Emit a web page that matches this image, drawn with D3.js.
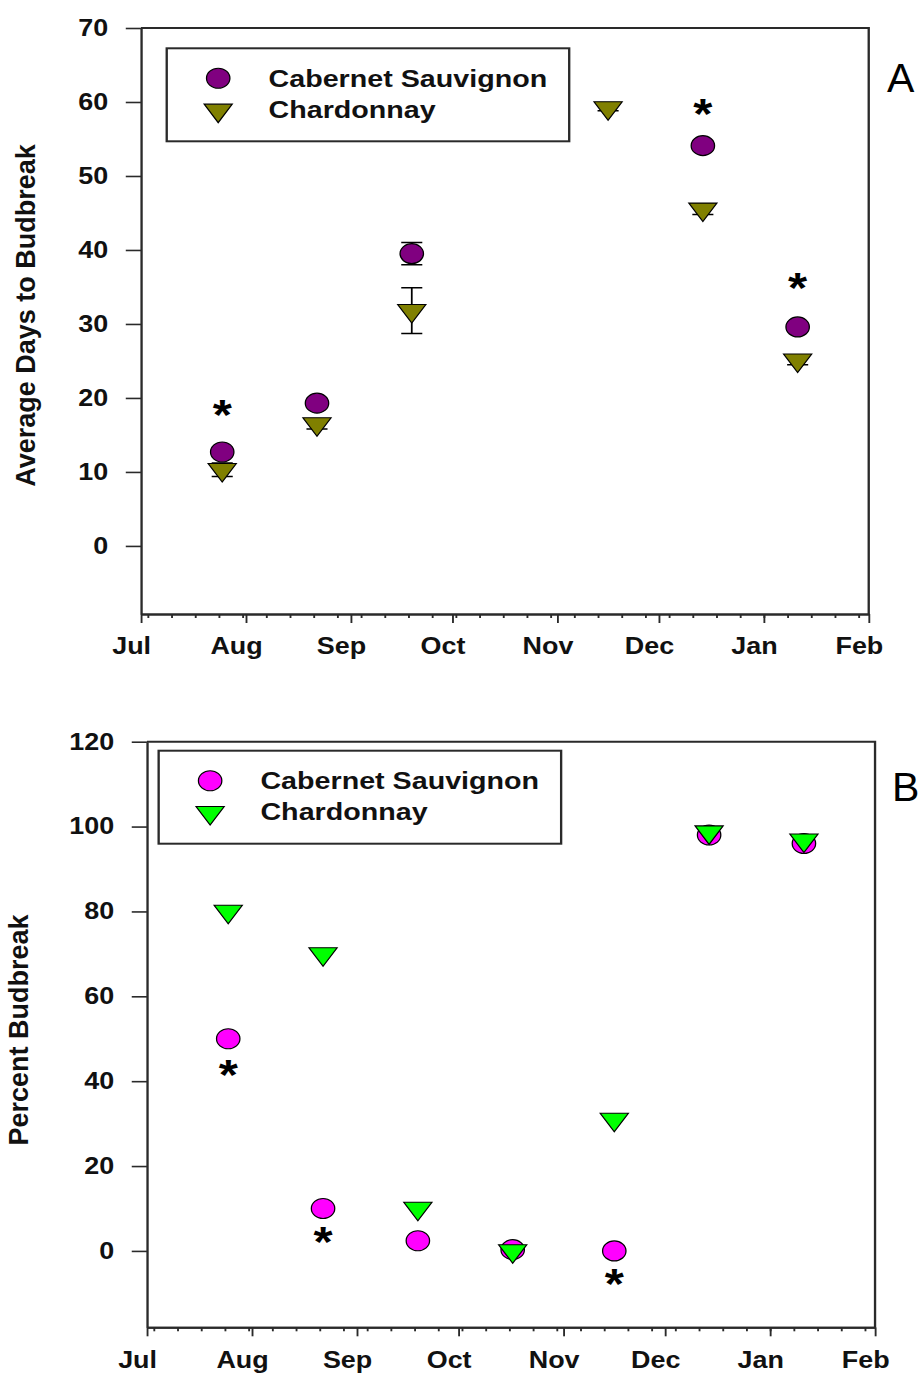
<!DOCTYPE html>
<html>
<head>
<meta charset="utf-8">
<script src="https://cdn.jsdelivr.net/npm/d3@7"></script>
<style>
  body { margin: 0; background: #fff; }
  text { font-family: "Liberation Sans", Arial, sans-serif; }
</style>
</head>
<body>
<svg id="fig" width="921" height="1373"></svg>
<script>
// ---- data -------------------------------------------------------------
const seasonStart = "2011-07-01";
const seasonEnd = "2012-02-01";
const seriesNames = ["Cabernet Sauvignon", "Chardonnay"];

// Panel A: average days to budbreak (mean, error)
const sampleDatesA = ["2011-07-25", "2011-08-22", "2011-09-19", "2011-11-16", "2011-12-14", "2012-01-11"];
const cabDaysA   = [12.7, 19.3, 39.5, null, 54.1, 29.6];
const cabErrA    = [0.6, 0.5, 1.5, null, 0.6, 0.6];
const chardDaysA = [10.3, 16.5, 31.8, 59.2, 45.5, 25.1];
const chardErrA  = [0.9, 0.7, 3.1, 0.4, 0.7, 0.6];
const sigDatesA  = ["2011-07-25", "2011-12-14", "2012-01-11"];
const sigLevelsA = [18.5, 59.2, 35.7];
const yTicksA    = [0, 10, 20, 30, 40, 50, 60, 70];

// Panel B: percent budbreak
const sampleDatesB = ["2011-07-25", "2011-08-22", "2011-09-19", "2011-10-17", "2011-11-16", "2011-12-14", "2012-01-11"];
const cabPctB   = [50, 10, 2.4, 0.3, 0, 98, 96];
const chardPctB = [80, 70, 10, 0, 31, 98.7, 96.8];
const sigDatesB  = ["2011-07-25", "2011-08-22", "2011-11-16"];
const sigLevelsB = [42.9, 3.4, -6.4];
const yTicksB    = [0, 20, 40, 60, 80, 100, 120];

// ---- drawing ----------------------------------------------------------
const parseDay = d3.utcParse("%Y-%m-%d");
const svg = d3.select("#fig");
const sx = 1.17;                       // wide aspect of the figure
const stage = svg.append("g").attr("transform", `scale(${sx},1)`);
const axisColor = "#2a2a2a";

// downward triangle centred on its centroid
const triangleDown = {
  draw(ctx, size) {
    const w = Math.sqrt(size) * 1.3, h = Math.sqrt(size);
    ctx.moveTo(-w / 2, -h / 3);
    ctx.lineTo(w / 2, -h / 3);
    ctx.lineTo(0, 2 * h / 3);
    ctx.closePath();
  }
};
const triPath = d3.symbol().type(triangleDown).size(18.5 * 18.5)();

function drawPanel(p) {
  const g = stage.append("g");
  const x = d3.scaleUtc()
    .domain([parseDay(seasonStart), parseDay(seasonEnd)])
    .range([p.left, p.right]);
  const y = d3.scaleLinear().domain(p.yDomain).range([p.bottom, p.top]);

  // frame on the top and right
  g.append("path")
    .attr("d", `M${p.left},${p.top}H${p.right}V${p.bottom}`)
    .attr("fill", "none").attr("stroke", axisColor).attr("stroke-width", 2);

  // y axis
  const ya = g.append("g").attr("transform", `translate(${p.left},0)`)
    .call(d3.axisLeft(y).tickValues(p.yTicks).tickSize(13).tickPadding(15).tickSizeOuter(0));
  // weekly minor ticks and monthly major ticks
  const xMinor = g.append("g").attr("transform", `translate(0,${p.bottom})`)
    .call(d3.axisBottom(x).ticks(d3.utcWeek.every(1)).tickFormat("").tickSize(4).tickSizeOuter(0));
  const xa = g.append("g").attr("transform", `translate(0,${p.bottom})`)
    .call(d3.axisBottom(x).ticks(d3.utcMonth.every(1)).tickFormat(d3.utcFormat("%b"))
      .tickSize(9).tickPadding(15).tickSizeOuter(0));
  xa.selectAll(".tick text").attr("dx", -8.5);

  [ya, xa, xMinor].forEach(a => {
    a.select(".domain").attr("stroke", axisColor).attr("stroke-width", 2);
    a.selectAll(".tick line").attr("stroke", axisColor).attr("stroke-width", 1.6);
    a.selectAll(".tick text")
      .attr("font-size", 23).attr("font-weight", "bold").attr("fill", "#111");
  });

  const pts = (vals, errs) => p.dates.map((d, i) => ({
    date: parseDay(d), v: vals[i], e: errs ? errs[i] : null
  })).filter(d => d.v != null);
  const cab = pts(p.cab, p.cabErr);
  const chard = pts(p.chard, p.chardErr);

  // error bars
  const withErr = cab.concat(chard).filter(d => d.e);
  const eb = g.append("g").attr("stroke", "#000").attr("stroke-width", 1.5).attr("fill", "none");
  eb.selectAll("path").data(withErr).join("path")
    .attr("d", d => {
      const cx = x(d.date), y1 = y(d.v + d.e), y0 = y(d.v - d.e);
      return `M${cx - 9},${y1}H${cx + 9}M${cx},${y1}V${y0}M${cx - 9},${y0}H${cx + 9}`;
    });

  // Cabernet Sauvignon: circles
  g.append("g").selectAll("circle").data(cab).join("circle")
    .attr("cx", d => x(d.date)).attr("cy", d => y(d.v)).attr("r", 10)
    .attr("fill", p.cabColor).attr("stroke", "#000").attr("stroke-width", 1.1);

  // Chardonnay: downward triangles
  g.append("g").selectAll("path").data(chard).join("path")
    .attr("d", triPath)
    .attr("transform", d => `translate(${x(d.date)},${y(d.v)})`)
    .attr("fill", p.chardColor).attr("stroke", "#000").attr("stroke-width", 1.1);

  // significance marks
  g.append("g").selectAll("text").data(p.sigDates.map((d, i) => ({ date: parseDay(d), v: p.sigLevels[i] })))
    .join("text")
    .attr("x", d => x(d.date)).attr("y", d => y(d.v)).attr("dy", "0.47em")
    .attr("text-anchor", "middle").attr("font-size", 42).attr("font-weight", "bold")
    .text("*");

  // legend
  const lg = g.append("g").attr("transform", `translate(${p.left + p.legendDx},${p.top + p.legendDy})`);
  lg.append("rect").attr("width", 344).attr("height", 93)
    .attr("fill", "#fff").attr("stroke", axisColor).attr("stroke-width", 2);
  lg.append("circle").attr("cx", 44).attr("cy", 30).attr("r", 10)
    .attr("fill", p.cabColor).attr("stroke", "#000").attr("stroke-width", 1.1);
  lg.append("path").attr("d", triPath).attr("transform", "translate(44,62)")
    .attr("fill", p.chardColor).attr("stroke", "#000").attr("stroke-width", 1.1);
  lg.selectAll("text.name").data(seriesNames).join("text").attr("class", "name")
    .attr("x", 87).attr("y", (d, i) => 38.5 + i * 31)
    .attr("font-size", 24.5).attr("font-weight", "bold").attr("fill", "#111")
    .text(d => d);

  // y axis title and panel letter (not stretched)
  svg.append("text")
    .attr("transform", `translate(${p.titleX},${p.titleY}) rotate(-90)`)
    .attr("text-anchor", "middle").attr("font-size", 27).attr("font-weight", "bold")
    .attr("fill", "#111").text(p.title);
  svg.append("text").attr("x", p.tagX).attr("y", p.tagY)
    .attr("font-size", 41).attr("fill", "#000").text(p.tag);
}

drawPanel({
  left: 120.5, right: 742.5, top: 28, bottom: 614,
  yDomain: [-9.2, 70], yTicks: yTicksA,
  dates: sampleDatesA, cab: cabDaysA, cabErr: cabErrA, chard: chardDaysA, chardErr: chardErrA,
  sigDates: sigDatesA, sigLevels: sigLevelsA,
  cabColor: "#800080", chardColor: "#808000",
  legendDx: 22, legendDy: 20.3,
  title: "Average Days to Budbreak", titleX: 35, titleY: 315.5,
  tag: "A", tagX: 887, tagY: 92
});

drawPanel({
  left: 125.6, right: 747.9, top: 741.7, bottom: 1327.3,
  yDomain: [-18, 120], yTicks: yTicksB,
  dates: sampleDatesB, cab: cabPctB, cabErr: null, chard: chardPctB, chardErr: null,
  sigDates: sigDatesB, sigLevels: sigLevelsB,
  cabColor: "#ff00ff", chardColor: "#00ff00",
  legendDx: 10, legendDy: 9,
  title: "Percent Budbreak", titleX: 28, titleY: 1030,
  tag: "B", tagX: 892, tagY: 801
});
</script>
</body>
</html>
